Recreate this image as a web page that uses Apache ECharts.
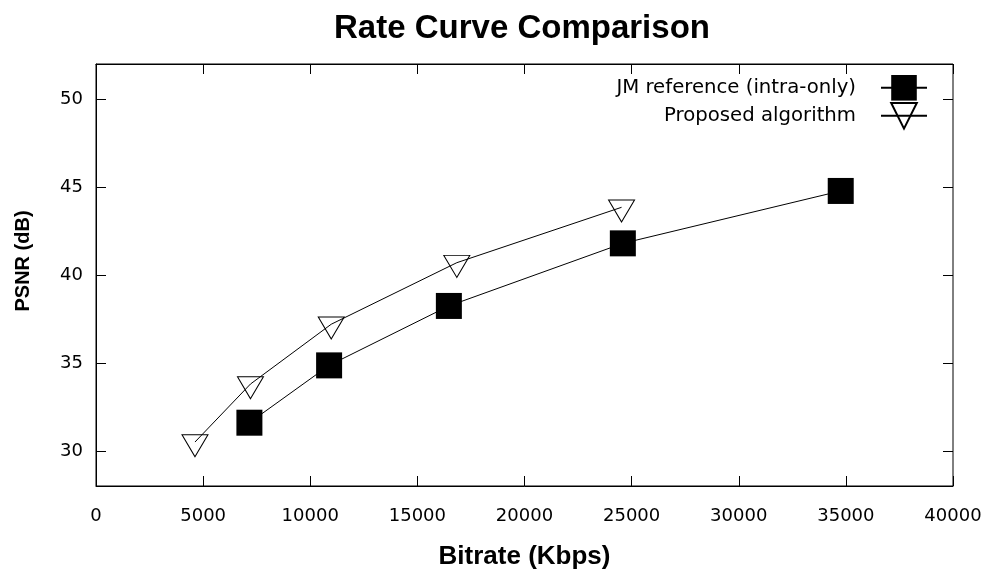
<!DOCTYPE html>
<html>
<head>
<meta charset="utf-8">
<title>Rate Curve Comparison</title>
<script src="https://cdn.jsdelivr.net/npm/echarts@6/dist/echarts.min.js"></script>
<style>
  html, body { margin: 0; padding: 0; background: #fff; }
  #chart { width: 993px; height: 571px; }
</style>
</head>
<body>
<div id="chart"></div>
<script>
// data
const jmBitrate = [7160, 10880, 16470, 24590, 34760];
const jmPsnr = [31.6, 34.86, 38.24, 41.8, 44.78];
const propBitrate = [4620, 7210, 10980, 16840, 24530];
const propPsnr = [30.5, 33.8, 37.2, 40.7, 43.85];

const seriesNames = ["JM reference (intra-only)", "Proposed algorithm"];

// y range of the plot and of the labelled ticks
const yMin = 28, yMax = 52;
const yTickMin = 30, yTickMax = 50, yTickStep = 5;

function pairs(xs, ys) {
  return xs.map((x, i) => [x, ys[i]]);
}

const tickFont = { fontFamily: "DejaVu Sans", fontSize: 18, color: "#000" };
// plain numbers, no thousands separator
const plain = (v) => String(v);

// plot box
const boxLeft = 96, boxRight = 40, boxTop = 64, boxBottom = 85;
const chartH = 571;
const pxPerUnit = (chartH - boxTop - boxBottom) / (yMax - yMin);
// second (invisible) grid that spans only the labelled ticks, so ticks start at 30
const tickGridTop = boxTop + (yMax - yTickMax) * pxPerUnit;
const tickGridBottom = boxBottom + (yTickMin - yMin) * pxPerUnit;

let chart = echarts.init(document.getElementById("chart"));

let options = {
  animation: false,
  backgroundColor: "#fff",
  title: {
    text: "Rate Curve Comparison",
    left: 522,
    textAlign: "center",
    top: 12,
    padding: 0,
    textStyle: {
      fontFamily: "Liberation Sans",
      fontWeight: "bold",
      fontSize: 33,
      color: "#000",
    },
  },
  legend: {
    orient: "vertical",
    right: 65,
    top: 75,
    padding: 0,
    align: "right",
    itemWidth: 46,
    itemHeight: 32,
    itemGap: 1.4,
    data: seriesNames,
    textStyle: {
      fontFamily: "DejaVu Sans",
      fontSize: 19.7,
      color: "#000",
      padding: [0, 20, 0, 0],
    },
  },
  grid: [
    {
      show: true,
      left: boxLeft,
      right: boxRight,
      top: boxTop,
      bottom: boxBottom,
      outerBoundsMode: "none",
      containLabel: false,
      borderColor: "#000",
      borderWidth: 1,
    },
    {
      show: false,
      left: boxLeft,
      right: boxRight,
      top: tickGridTop,
      bottom: tickGridBottom,
      outerBoundsMode: "none",
      containLabel: false,
    },
  ],
  xAxis: [
    {
      type: "value",
      min: 0,
      max: 40000,
      interval: 5000,
      name: "Bitrate (Kbps)",
      nameLocation: "middle",
      nameGap: 58,
      nameTextStyle: {
        fontFamily: "Liberation Sans",
        fontWeight: "bold",
        fontSize: 26,
        color: "#000",
      },
      axisLine: { lineStyle: { color: "#000" } },
      axisTick: { inside: true, length: 10, lineStyle: { color: "#000" } },
      axisLabel: Object.assign({ margin: 21, formatter: plain }, tickFont),
      splitLine: { show: false },
    },
    {
      // mirrored ticks on the top border
      type: "value",
      position: "top",
      min: 0,
      max: 40000,
      interval: 5000,
      axisLine: { lineStyle: { color: "#000" } },
      axisTick: { inside: true, length: 10, lineStyle: { color: "#000" } },
      axisLabel: { show: false },
      splitLine: { show: false },
    },
    {
      gridIndex: 1,
      type: "value",
      min: 0,
      max: 40000,
      show: false,
    },
  ],
  yAxis: [
    {
      // data axis, 28..52
      type: "value",
      min: yMin,
      max: yMax,
      name: "PSNR (dB)",
      nameLocation: "middle",
      nameGap: 63,
      nameTextStyle: {
        fontFamily: "Liberation Sans",
        fontWeight: "bold",
        fontSize: 20,
        color: "#000",
        padding: [0, 0, 0, 28],
      },
      axisLine: { show: true, lineStyle: { color: "#000" } },
      axisTick: { show: false },
      axisLabel: { show: false },
      splitLine: { show: false },
    },
    {
      // tick axis on the left, 30..50
      gridIndex: 1,
      type: "value",
      min: yTickMin,
      max: yTickMax,
      interval: yTickStep,
      axisLine: { show: false },
      axisTick: { show: true, inside: true, length: 10, lineStyle: { color: "#000" } },
      axisLabel: Object.assign({ margin: 13, padding: [4, 0, 0, 0] }, tickFont),
      splitLine: { show: false },
    },
    {
      // mirrored ticks on the right border
      gridIndex: 1,
      type: "value",
      position: "right",
      min: yTickMin,
      max: yTickMax,
      interval: yTickStep,
      axisLine: { show: false },
      axisTick: { show: true, inside: true, length: 10, lineStyle: { color: "#000" } },
      axisLabel: { show: false },
      splitLine: { show: false },
    },
  ],
  series: [
    {
      name: seriesNames[0],
      type: "line",
      data: pairs(jmBitrate, jmPsnr),
      symbol: "rect",
      symbolSize: 26,
      lineStyle: { color: "#000", width: 1 },
      itemStyle: { color: "#000", borderColor: "#000", borderWidth: 0 },
      z: 3,
    },
    {
      name: seriesNames[1],
      type: "line",
      data: pairs(propBitrate, propPsnr),
      symbol: "triangle",
      symbolSize: [26, 22],
      symbolRotate: 180,
      //centroid of the down triangle sits on the point
      symbolOffset: [0, 3.7],
      lineStyle: { color: "#000", width: 1 },
      itemStyle: { color: "rgba(0,0,0,0)", borderColor: "#000", borderWidth: 1 },
      z: 3,
    },
  ],
};

chart.setOption(options);
</script>
</body>
</html>
